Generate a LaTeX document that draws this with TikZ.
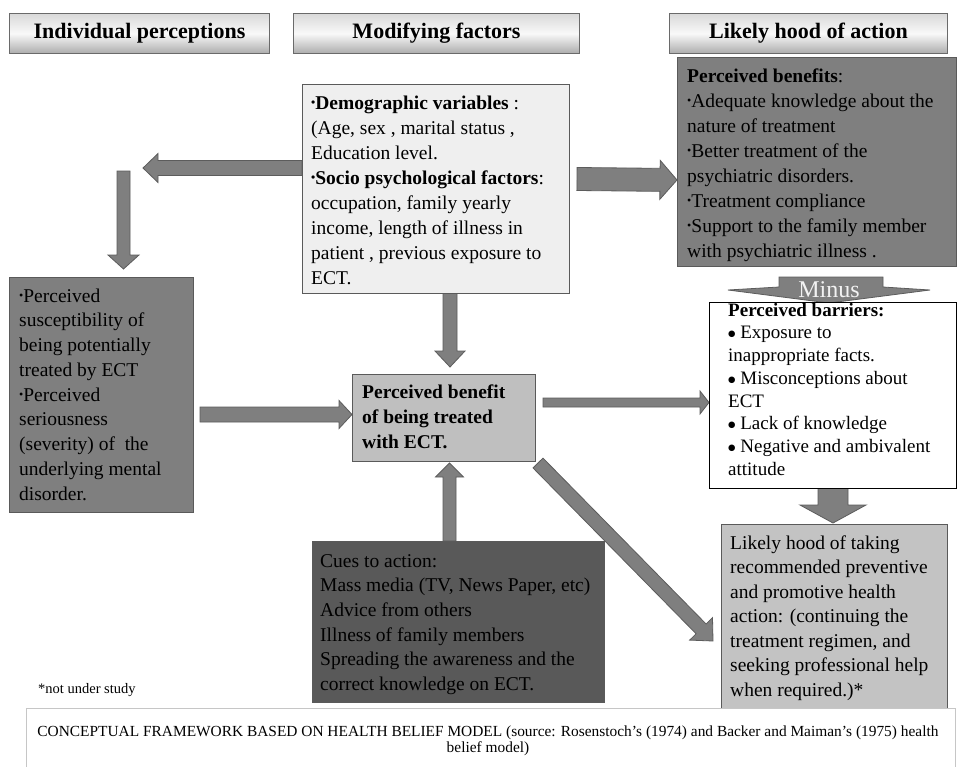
\documentclass[tikz,border=0pt]{standalone}
\usepackage{fontspec}
\setmainfont{Liberation Serif}
\newfontfamily\dejavu{DejaVu Sans}
\usetikzlibrary{calc}
\pgfdeclarelayer{bg}
\pgfsetlayers{bg,main}
\definecolor{arrfill}{HTML}{7F7F7F}
\definecolor{arrline}{HTML}{5C5C5C}
\definecolor{boxline}{HTML}{5A5A5A}
\definecolor{demofill}{HTML}{EFEFEF}
\definecolor{darkfill}{HTML}{7F7F7F}
\definecolor{cenfill}{HTML}{BFBFBF}
\definecolor{cuesfill}{HTML}{595959}
\definecolor{likfill}{HTML}{C3C3C3}
\definecolor{hdrline}{HTML}{6A6A6A}
\newcommand\fl{\rule{0pt}{15pt}}
\newcommand\bul{\raisebox{2.5pt}{\fontsize{12}{12}\selectfont •}}
\newcommand\bdot{\raisebox{2pt}{\dejavu\fontsize{8.5}{8.5}\selectfont ●}}
\newcommand\blockarr[5]{%
  \coordinate (ba-h) at ($(#2)!#5!(#1)$);
  \draw[blockarrow] ($(#1)!#3!90:(#2)$) -- ($(ba-h)!#3!-90:(#1)$) -- ($(ba-h)!#4!-90:(#1)$) -- (#2) -- ($(ba-h)!#4!90:(#1)$) -- ($(ba-h)!#3!90:(#1)$) -- ($(#1)!#3!-90:(#2)$) -- cycle;}
\tikzset{
  hdr/.style={draw=hdrline, line width=1pt, top color=gray!30, bottom color=gray!65, middle color=gray!5,
    minimum height=40pt, anchor=north west, inner sep=0pt,
    font=\fontsize{22}{26}\selectfont\bfseries},
  box/.style={draw=boxline, line width=1pt, anchor=north west, inner sep=0pt},
  txt/.style={anchor=north west, align=left, inner sep=0pt, font=\fontsize{19.5}{25}\selectfont},
  blockarrow/.style={fill=arrfill, draw=arrline, line width=0.8pt, line join=miter},
}
\begin{document}
\begin{tikzpicture}[x=1pt,y=-1pt]
\useasboundingbox (0,0) rectangle (957,766);

% headers
\node[hdr, minimum width=260pt] (h1) at (9,13) {Individual perceptions};
\node[hdr, minimum width=286pt] (h2) at (293,13) {Modifying factors};
\node[hdr, minimum width=278pt] (h3) at (669,13) {Likely hood of action};

% boxes
\node[box, fill=demofill, minimum width=267pt, minimum height=209pt] (demo) at (302,84) {};
\node[box, fill=darkfill, minimum width=279pt, minimum height=209pt] (ben) at (677,57) {};
\node[box, fill=darkfill, minimum width=184pt, minimum height=235pt] (left) at (9,277) {};
\node[box, fill=cenfill, minimum width=183pt, minimum height=87pt] (cen) at (352,374) {};
\node[box, draw=black, fill=white, minimum width=247pt, minimum height=186pt] (bar) at (709,302) {};
\node[box, fill=cuesfill, minimum width=292pt, minimum height=161pt] (cues) at (312,541) {};
\node[box, fill=likfill, minimum width=226pt, minimum height=192pt] (lik) at (721,524) {};
\node[box, draw=gray!45, fill=white, minimum width=929pt, minimum height=64pt] (foot) at (26,708) {};

% texts
\node[txt] (demo-t) at (311,94) {\fl{\bfseries\bul Demographic variables} :\\(Age, sex , marital status ,\\Education level.\\{\bfseries\bul Socio psychological factors}:\\occupation, family yearly\\income, length of illness in\\patient , previous exposure to\\ECT.};
\node[txt] (ben-t) at (687,67) {\fl{\bfseries Perceived benefits}:\\\bul Adequate knowledge about the\\nature of treatment\\\bul Better treatment of the\\psychiatric disorders.\\\bul Treatment compliance\\\bul Support to the family member\\with psychiatric illness .};
\node[txt, font=\fontsize{19.5}{24.75}\selectfont] (left-t) at (19,287) {\fl\bul Perceived\\susceptibility of\\being potentially\\treated by ECT\\\bul Perceived\\seriousness\\(severity) of\ \ the\\underlying mental\\disorder.};
\node[txt, font=\fontsize{19.5}{25}\selectfont\bfseries] (cen-t) at (362,383) {\fl Perceived benefit\\of being treated\\with ECT.};
\node[txt, font=\fontsize{19}{22.7}\selectfont] (bar-t) at (728,301) {\fl{\bfseries Perceived barriers:}\\\bdot\ Exposure to\\inappropriate facts.\\\bdot\ Misconceptions about\\ECT\\\bdot\ Lack of knowledge\\\bdot\ Negative and ambivalent\\attitude};
\node[txt, font=\fontsize{19.5}{24.6}\selectfont] (cues-t) at (320,552) {\fl Cues to action:\\Mass media (TV, News Paper, etc)\\Advice from others\\Illness of family members\\Spreading the awareness and the\\correct knowledge on ECT.};
\node[txt, font=\fontsize{19.5}{24.5}\selectfont] (lik-t) at (730,534) {\fl Likely hood of taking\\recommended preventive\\and promotive health\\action: (continuing the\\treatment regimen, and\\seeking professional help\\when required.)*};
\node[anchor=base west, inner sep=0pt, font=\fontsize{14.5}{16}\selectfont] (note) at (38,693) {*not under study};
\node[anchor=north, align=center, inner sep=0pt, font=\fontsize{15.4}{16}\selectfont] (foot-t) at (488,725) {\rule{0pt}{11pt}CONCEPTUAL FRAMEWORK BASED ON HEALTH BELIEF MODEL (source: Rosenstoch's (1974) and Backer and Maiman's (1975) health\\belief model)};

% arrows
\coordinate (a1s) at (302,168);   \coordinate (a1e) at (143,168);
\coordinate (a2s) at (123.5,171); \coordinate (a2e) at (123.5,269);
\coordinate (a3s) at (577,179);   \coordinate (a3e) at (ben.west |- 0,180);
\coordinate (a4s) at (450,293);   \coordinate (a4e) at (450,367);
\coordinate (a5s) at (200,414.5); \coordinate (a5e) at (cen.west |- 0,414.5);
\coordinate (a6s) at (543,402.5); \coordinate (a6e) at (bar.west |- 0,402.5);
\coordinate (a7s) at (449.5,541); \coordinate (a7e) at (449.5,463);
\coordinate (a8s) at (538,463);   \coordinate (a8e) at (713,641);
\coordinate (a9s) at (833,488);   \coordinate (a9e) at (833,523);
\begin{pgfonlayer}{bg}
\fill[white] (0,0) rectangle (957,766);
\blockarr{a1s}{a1e}{7.5pt}{14.5pt}{15pt}
\blockarr{a2s}{a2e}{6.5pt}{15.5pt}{14pt}
\blockarr{a3s}{a3e}{11.5pt}{19.5pt}{17pt}
\blockarr{a4s}{a4e}{7pt}{15pt}{16pt}
\blockarr{a5s}{a5e}{7.5pt}{14pt}{13pt}
\blockarr{a6s}{a6e}{4.5pt}{11.5pt}{9pt}
\blockarr{a7s}{a7e}{6.5pt}{14pt}{14pt}
\blockarr{a8s}{a8e}{7pt}{16pt}{17pt}
\blockarr{a9s}{a9e}{15pt}{33pt}{18pt}
\draw[blockarrow] (779,277) -- (883,277) -- (883,287) -- (930,290) -- (829,303) -- (728,290) -- (779,287) -- cycle;
\end{pgfonlayer}
\node[inner sep=0pt, font=\fontsize{24}{24}\selectfont, text=gray!10] (minus) at (829,290) {Minus};
\end{tikzpicture}
\end{document}
